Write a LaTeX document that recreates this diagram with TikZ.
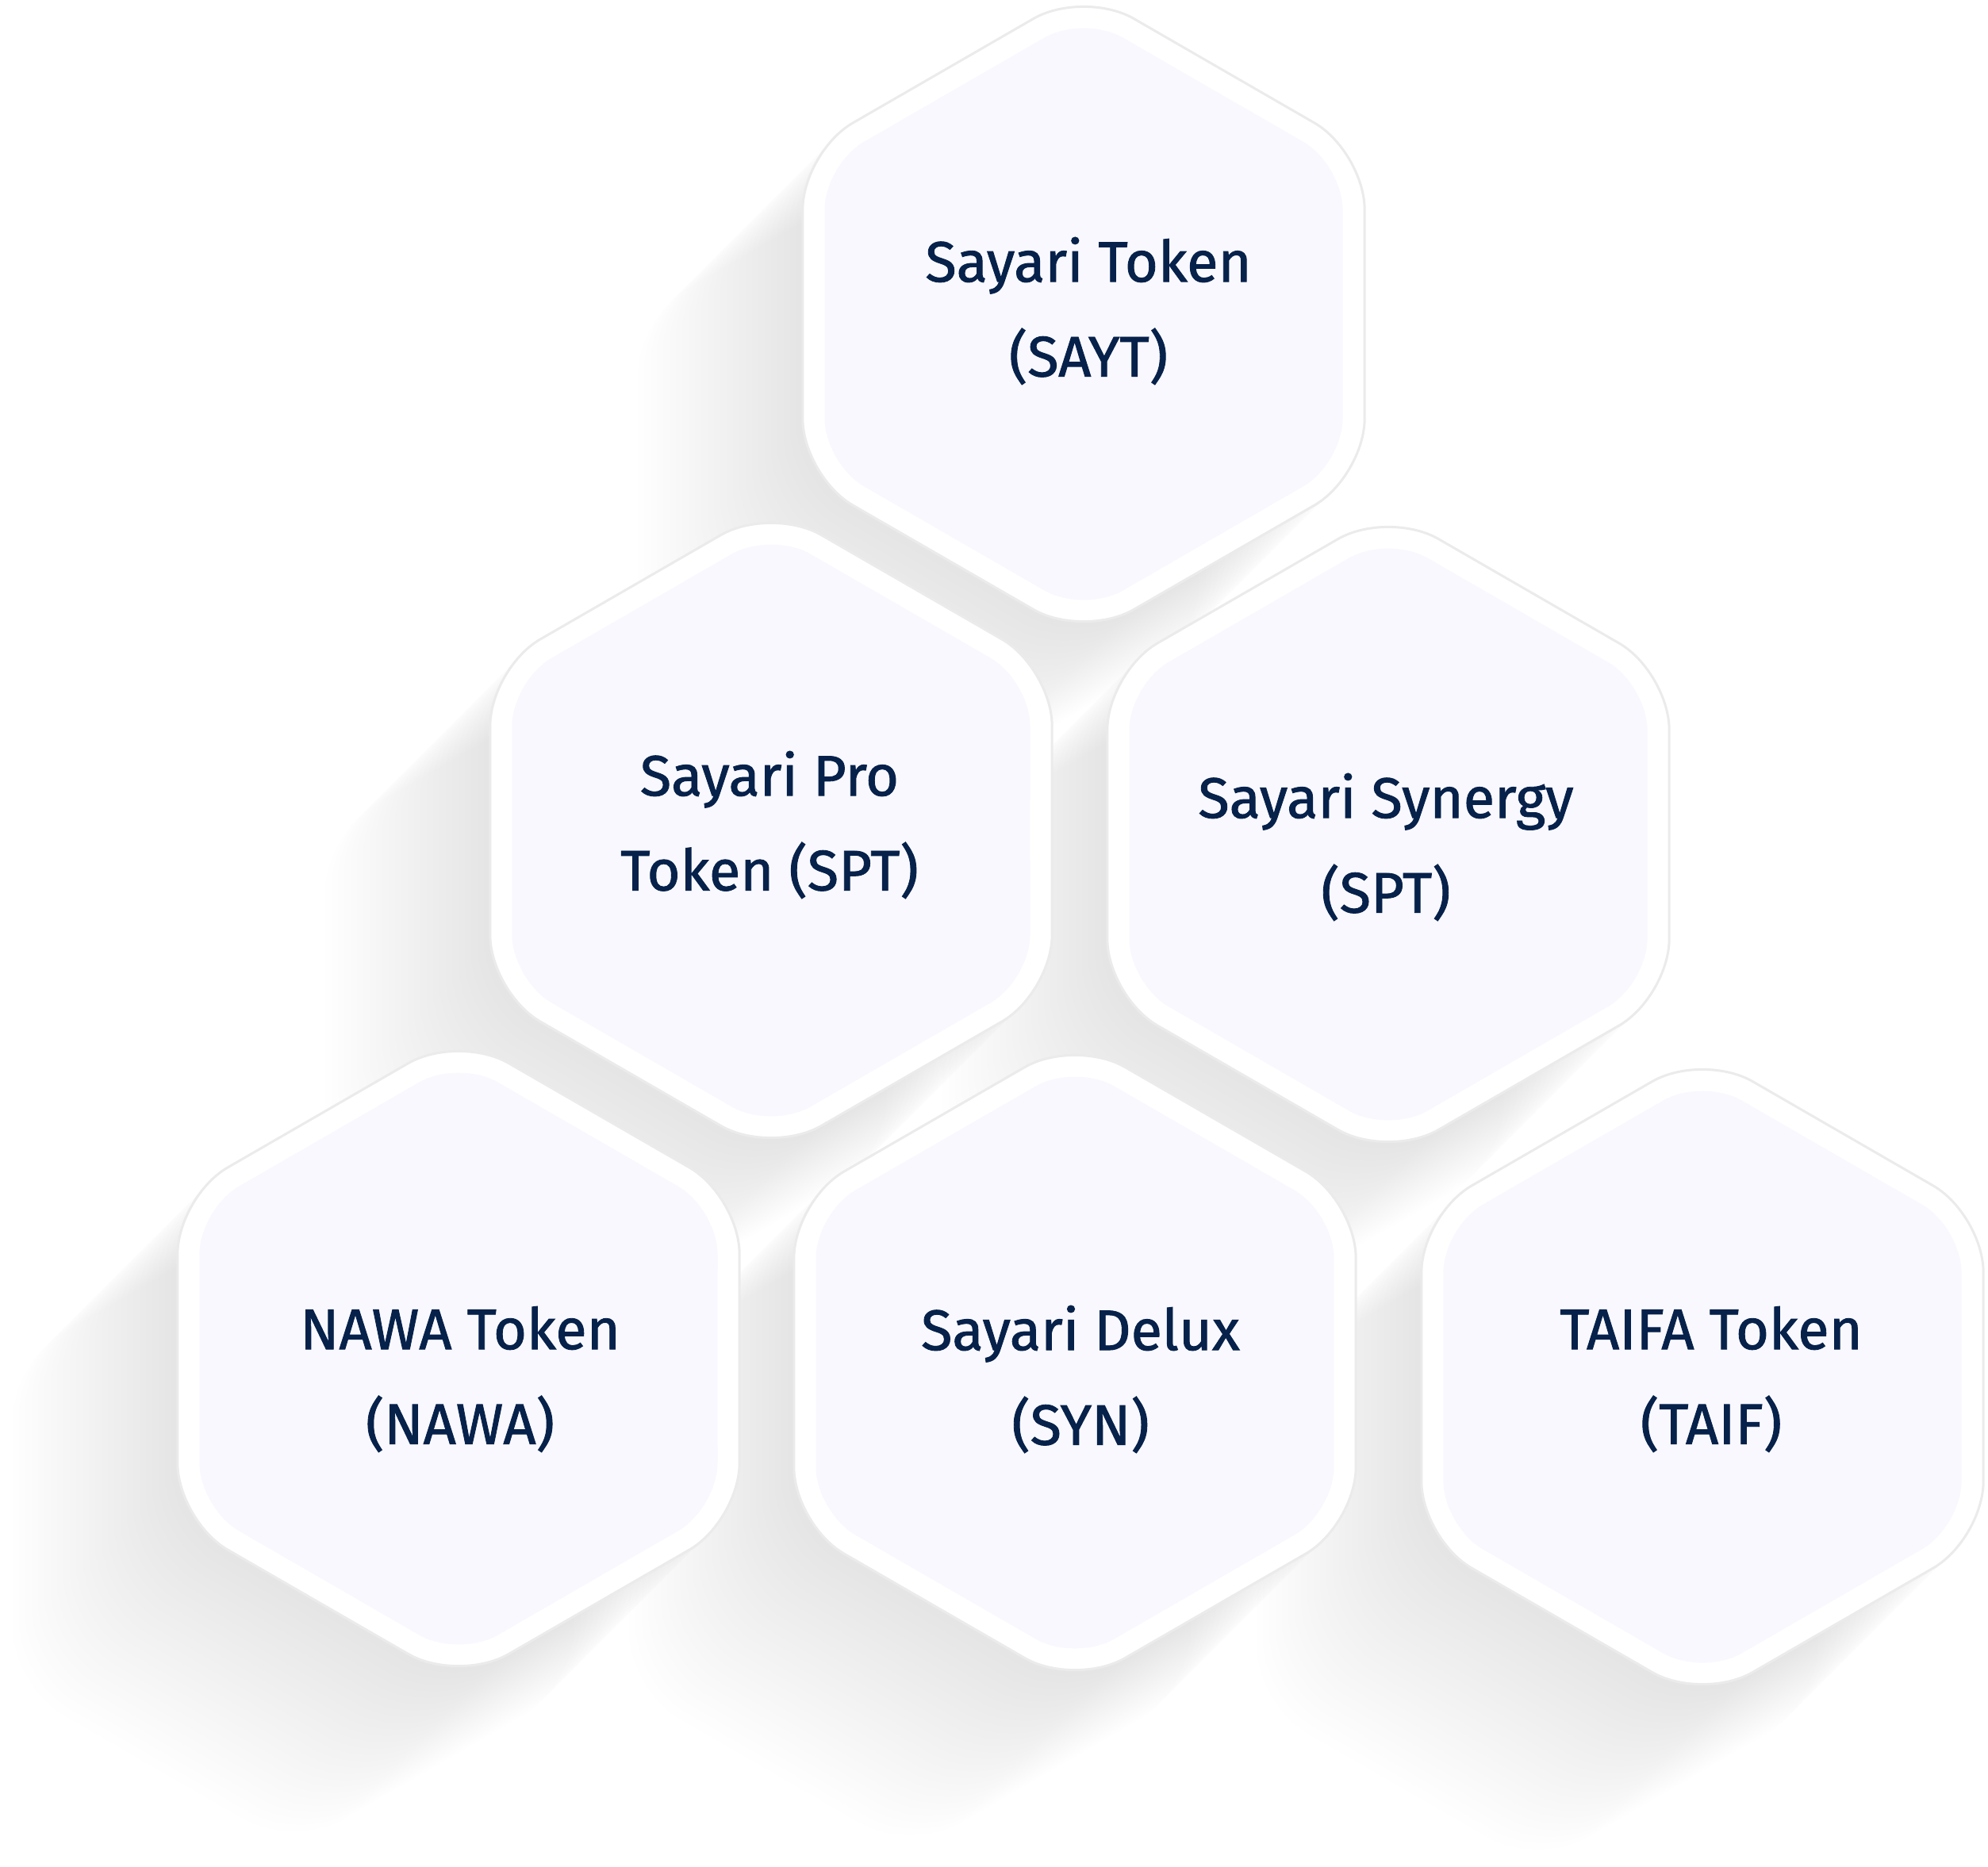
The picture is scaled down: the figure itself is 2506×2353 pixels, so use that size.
\documentclass[tikz,border=0pt]{standalone}
\usepackage{fontspec}
\setmainfont{Fira Sans}
\newfontfamily\tokenfont[FakeBold=1.2]{Fira Sans}
\definecolor{tokennavy}{HTML}{06214A}
\definecolor{hexfill}{HTML}{F8F8FE}
\definecolor{hexline}{HTML}{EBEBEB}

% pointy-top hexagon round the current origin, #1 = corner radius
\newcommand{\hexpath}[1]{(0:{0.866*#1}) -- (30:#1) -- (90:#1) -- (150:#1) -- (210:#1) -- (270:#1) -- (330:#1) -- (0:{0.866*#1})}

\tikzset{
  hexouter/.style={fill=white, draw=hexline, line width=0.3mm, rounded corners=7.3mm},
  hexinner/.style={fill=hexfill, rounded corners=5.7mm},
  hexshadow/.style={fill=black, fill opacity=0.0021, rounded corners=7.3mm},
  tokenlabel/.style={align=center, text=tokennavy, font=\tokenfont\fontsize{20.5}{34}\selectfont}
}

\begin{document}
\begin{tikzpicture}[x=0.1mm, y=-0.1mm]
    \useasboundingbox (0,0) rectangle (2506,2353);

    % long soft shadows, down to the left
    \foreach \cx/\cy in {1366/396, 972/1047, 1750/1052, 578/1713, 1355/1718, 2146/1736}
        \foreach \k in {1,...,26}
            \fill[hexshadow, shift={({\cx-8*\k},{\cy+8*\k})}] \hexpath{409};

    % white ring with a thin grey rim, lavender face
    \foreach \cx/\cy in {1366/396, 972/1047, 1750/1052, 578/1713, 1355/1718, 2146/1736} {
        \draw[hexouter, shift={(\cx,\cy)}] \hexpath{409};
        \fill[hexinner, shift={(\cx,\cy)}] \hexpath{377};
    }

    % top row
    \node[tokenlabel] (sayt) at (1372,392) {Sayari Token\\(SAYT)};

    % middle row
    \node[tokenlabel] (spt) at (970,1040) {Sayari Pro\\Token (SPT)};
    \node[tokenlabel] (synergy) at (1747,1068) {Sayari Synergy\\(SPT)};

    % bottom row
    \node[tokenlabel] (nawa) at (580,1739) {NAWA Token\\(NAWA)};
    \node[tokenlabel] (syn) at (1362,1739) {Sayari Delux\\(SYN)};
    \node[tokenlabel] (taif) at (2157,1739) {TAIFA Token\\(TAIF)};
\end{tikzpicture}
\end{document}
